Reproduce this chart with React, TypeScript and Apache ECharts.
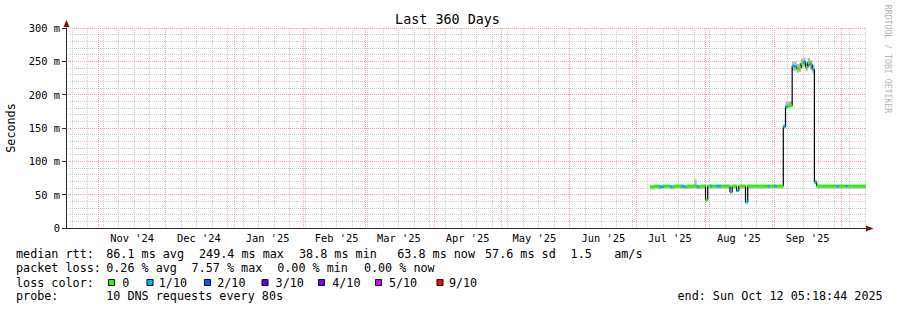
import React, { useEffect, useRef } from "react";
import * as echarts from "echarts";

const DAY = 86400000;
const X_MIN = Date.UTC(2024, 9, 17, 5, 18, 44);
const X_MAX = Date.UTC(2025, 9, 12, 5, 18, 44);
const FIRST_DAY = Date.UTC(2025, 6, 7);
const FIRST_SUNDAY = Date.UTC(2024, 9, 20);

// daily median rtt (ms), Jul 7 2025 .. Oct 12 2025
const medianMs = [
  62, 62, 63, 63, 62, 62, 63, 63, 63, 62, 62, 63, 63, 63, 63, 62, 62, 63, 63, 63, 63, 62, 62, 63, 63,
  42, 63, 63, 63, 63, 63, 63, 63, 63, 63, 63, 54, 63, 63, 56, 63, 63, 63, 39, 63, 63, 63, 63, 63, 63, 63, 63, 63, 63, 63, 63,
  63, 63, 63, 63,
  152,
  182, 183, 184,
  243, 242, 239, 240, 247, 249, 241, 248, 245, 238,
  69,
  63, 63, 63, 63, 63, 63, 63, 63, 63, 63, 63, 63, 63, 63, 63, 63, 63, 63, 63, 63, 63, 63, 63,
];

// smoke band (ms) per day
const smokeLowMs = [
  58, 58, 59, 59, 58, 58, 59, 59, 59, 58, 58, 59, 59, 59, 59, 58, 58, 59, 59, 59, 59, 58, 58, 59, 59,
  40, 59, 59, 59, 59, 59, 59, 59, 59, 59, 59, 52, 59, 59, 54, 59, 59, 59, 37, 59, 59, 59, 59, 59, 59, 59, 59, 59, 59, 59, 59,
  59, 59, 59, 59,
  150,
  180, 180, 181,
  236, 235, 233, 234, 240, 242, 235, 241, 238, 232,
  66,
  59, 59, 59, 59, 59, 59, 59, 59, 59, 59, 59, 59, 59, 59, 59, 59, 59, 59, 59, 59, 59, 59, 59,
];
const smokeHighMs = [
  63, 63, 64, 64, 63, 63, 64, 64, 64, 63, 63, 64, 64, 64, 64, 63, 63, 64, 64, 64, 73, 63, 63, 64, 64,
  43, 64, 64, 64, 64, 64, 64, 64, 64, 64, 64, 55, 64, 64, 57, 64, 64, 64, 40, 64, 64, 64, 64, 64, 64, 64, 64, 64, 64, 64, 64,
  64, 64, 64, 64,
  156,
  189, 190, 190,
  250, 249, 246, 247, 254, 256, 248, 255, 252, 245,
  72,
  64, 64, 64, 64, 64, 64, 64, 64, 64, 64, 64, 64, 64, 64, 64, 64, 64, 64, 64, 64, 64, 64, 64,
];

// packet loss per day, in tenths
const lossTenths = [
  0, 0, 0, 0, 1, 1, 0, 0, 0, 1,
  0, 0, 0, 0, 1, 1, 0, 0, 0, 0,
  0, 1, 0, 0, 0, 0, 0, 1, 0, 0,
  1, 1, 0, 0, 0, 0, 1, 0, 0, 1,
  0, 0, 0, 1, 0, 0, 0, 0, 0, 0,
  0, 0, 0, 1, 0, 0, 1, 0, 0, 0,
  1, 1, 0, 0, 1, 1, 0, 0, 0, 1,
  0, 0, 1, 1, 1, 0, 0, 0, 0, 0,
  0, 0, 0, 0, 1, 0, 0, 0, 1, 0,
  0, 0, 0, 0, 0, 0, 0, 0,
];

const monthStarts = [
  Date.UTC(2024, 10, 1), Date.UTC(2024, 11, 1), Date.UTC(2025, 0, 1), Date.UTC(2025, 1, 1),
  Date.UTC(2025, 2, 1), Date.UTC(2025, 3, 1), Date.UTC(2025, 4, 1), Date.UTC(2025, 5, 1),
  Date.UTC(2025, 6, 1), Date.UTC(2025, 7, 1), Date.UTC(2025, 8, 1), Date.UTC(2025, 9, 1),
];
const monthLabels = ["Nov '24", "Dec '24", "Jan '25", "Feb '25", "Mar '25", "Apr '25", "May '25", "Jun '25", "Jul '25", "Aug '25", "Sep '25"];
const yTickLabels = ["0", "50 m", "100 m", "150 m", "200 m", "250 m", "300 m"];

const lossLegendLabels = ["0", "1/10", "2/10", "3/10", "4/10", "5/10", "9/10"];
const lossLegendColors = ["#26ff00", "#00b8ff", "#0059ff", "#5e00ff", "#7e00ff", "#dd00ff", "#ff0000"];
const lossLegendBoxX = [108, 146.5, 204, 261.5, 318, 375, 436.5];
const lossLegendTextX = [122.2, 158.8, 217.2, 275.6, 332.2, 388.9, 448.9];

const statsRow1 = [
  { x: 16, t: "median rtt:" },
  { x: 106.2, t: "86.1 ms avg" },
  { x: 199, t: "249.4 ms max" },
  { x: 299, t: "38.8 ms min" },
  { x: 397.2, t: "63.8 ms now" },
  { x: 485, t: "57.6 ms sd" },
  { x: 570.6, t: "1.5" },
  { x: 614.2, t: "am/s" },
];
const statsRow2 = [
  { x: 16, t: "packet loss:" },
  { x: 106.2, t: "0.26 % avg" },
  { x: 191.6, t: "7.57 % max" },
  { x: 277.2, t: "0.00 % min" },
  { x: 363.9, t: "0.00 % now" },
];
const probeRow = [
  { x: 16, t: "probe:" },
  { x: 106.2, t: "10 DNS requests every 80s" },
  { x: 677.5, t: "end: Sun Oct 12 05:18:44 2025" },
];

const MONO = "'DejaVu Sans Mono', monospace";
const MINOR = "#cccccc";
const MAJOR = "#f2a2a2";
const AXIS = "#2a2a2a";

function buildOption() {
  const dayStart = (i: number) => FIRST_DAY + i * DAY;
  const dayEnd = (i: number) => Math.min(FIRST_DAY + (i + 1) * DAY, X_MAX);

  const smokeData = medianMs.map((_, i) => [dayStart(i), dayEnd(i), smokeLowMs[i], smokeHighMs[i]]);
  const lossData = medianMs.map((m, i) => [dayStart(i), dayEnd(i), m, lossTenths[i]]);
  const lineData = medianMs.map((m, i) => [dayStart(i), m]);
  lineData.push([X_MAX, medianMs[medianMs.length - 1]]);

  const vGrid: number[][] = [];
  for (let t = FIRST_SUNDAY; t <= X_MAX; t += 7 * DAY) vGrid.push([t, 0]);
  monthStarts.forEach((t) => vGrid.push([t, 1]));

  const labelValues = monthLabels.map((_, i) => monthStarts[i] + 15 * DAY);
  const labelMap = new Map<number, string>();
  labelValues.forEach((v, i) => labelMap.set(v, monthLabels[i]));

  const textStyle = (x: number, y: number, text: string, size = 11.75, extra: any = {}) => ({
    type: "text",
    silent: true,
    style: {
      x, y, text, fill: "#000",
      fontFamily: MONO, fontSize: size,
      align: "left", verticalAlign: "middle",
      textAlign: "left", textVerticalAlign: "middle",
      ...extra,
    },
  });

  const graphics: any[] = [];
  graphics.push(textStyle(447.5, 19, "Last 360 Days", 13.4, { align: "center", textAlign: "center" }));
  graphics.push({
    type: "text", silent: true, x: 11, y: 128, rotation: Math.PI / 2,
    style: { x: 0, y: 0, text: "Seconds", fill: "#000", fontFamily: MONO, fontSize: 11.75, align: "center", verticalAlign: "middle", textAlign: "center", textVerticalAlign: "middle" },
  });
  graphics.push({
    type: "text", silent: true, x: 887.5, y: 59, rotation: -Math.PI / 2,
    style: { x: 0, y: 0, text: "RRDTOOL / TOBI OETIKER", fill: "#b4b4b4", fontFamily: MONO, fontSize: 8.2, align: "center", verticalAlign: "middle", textAlign: "center", textVerticalAlign: "middle" },
  });
  // axis arrows
  graphics.push({ type: "polygon", silent: true, shape: { points: [[866, 225.5], [866, 231.5], [873.5, 228.5]] }, style: { fill: "#8a1010" } });
  graphics.push({ type: "polygon", silent: true, shape: { points: [[63.5, 27], [69.5, 27], [66.5, 20]] }, style: { fill: "#8a1010" } });

  const rowY = [254.3, 268.2, 282.5, 295.9];
  statsRow1.forEach((s) => graphics.push(textStyle(s.x, rowY[0], s.t)));
  statsRow2.forEach((s) => graphics.push(textStyle(s.x, rowY[1], s.t)));
  graphics.push(textStyle(16, rowY[2], "loss color:"));
  lossLegendLabels.forEach((lab, i) => {
    graphics.push({
      type: "rect", silent: true,
      shape: { x: lossLegendBoxX[i] + 0.5, y: 279.5, width: 6, height: 6 },
      style: { fill: lossLegendColors[i], stroke: "#000", lineWidth: 1 },
    });
    graphics.push(textStyle(lossLegendTextX[i], rowY[2], lab));
  });
  probeRow.forEach((s) => graphics.push(textStyle(s.x, rowY[3], s.t)));

  return {
    animation: false,
    backgroundColor: "#fff",
    grid: { left: 66, top: 28, width: 800, height: 200 },
    xAxis: {
      type: "value",
      min: X_MIN,
      max: X_MAX,
      axisLine: { show: true, onZero: false, lineStyle: { color: AXIS, width: 1 } },
      axisTick: { show: false },
      splitLine: { show: false },
      axisLabel: {
        customValues: labelValues,
        formatter: (v: number) => labelMap.get(v) ?? "",
        fontFamily: MONO,
        fontSize: 10.4,
        color: "#000",
        margin: 5,
        hideOverlap: false,
      },
    },
    yAxis: {
      type: "value",
      min: 0,
      max: 300,
      interval: 50,
      axisLine: { show: true, onZero: false, lineStyle: { color: AXIS, width: 1 } },
      axisTick: { show: true, length: 4, lineStyle: { color: AXIS } },
      minorTick: { show: false, splitNumber: 5 },
      splitLine: { show: true, lineStyle: { color: MAJOR, width: 1, type: [1, 1] } },
      minorSplitLine: { show: true, lineStyle: { color: MINOR, width: 1, type: [1, 1] } },
      axisLabel: {
        formatter: (v: number) => yTickLabels[Math.round(v / 50)],
        fontFamily: MONO,
        fontSize: 10.4,
        color: "#000",
        margin: 6,
      },
    },
    graphic: graphics,
    series: [
      {
        type: "custom",
        name: "vgrid",
        silent: true,
        z: 1,
        clip: true,
        data: vGrid,
        encode: { x: 0 },
        renderItem: (params: any, api: any) => {
          const t = api.value(0);
          const major = api.value(1) === 1;
          const top = api.coord([t, 300]);
          const bot = api.coord([t, 0]);
          const x = Math.floor(top[0]) + 0.5;
          return {
            type: "line",
            shape: { x1: x, y1: top[1], x2: x, y2: bot[1] },
            style: { stroke: major ? MAJOR : MINOR, lineWidth: 1, lineDash: [1, 1] },
          };
        },
      },
      {
        type: "custom",
        name: "smoke",
        silent: true,
        z: 2,
        clip: true,
        data: smokeData,
        encode: { x: [0, 1], y: [2, 3] },
        renderItem: (params: any, api: any) => {
          const a = api.coord([api.value(0), api.value(3)]);
          const b = api.coord([api.value(1), api.value(2)]);
          return {
            type: "rect",
            shape: { x: a[0], y: a[1], width: b[0] - a[0], height: b[1] - a[1] },
            style: { fill: "#b6b6b6" },
          };
        },
      },
      {
        type: "line",
        name: "median",
        step: "end",
        z: 3,
        silent: true,
        symbol: "none",
        data: lineData,
        lineStyle: { color: "#000", width: 1.2 },
      },
      {
        type: "custom",
        name: "loss",
        silent: true,
        z: 4,
        clip: true,
        data: lossData,
        encode: { x: [0, 1], y: 2 },
        renderItem: (params: any, api: any) => {
          const a = api.coord([api.value(0), api.value(2)]);
          const b = api.coord([api.value(1), api.value(2)]);
          const lt = api.value(3);
          const color = lossLegendColors[Math.min(lt, 5)];
          return {
            type: "rect",
            shape: { x: a[0], y: a[1] - 1.5, width: b[0] - a[0], height: 3 },
            style: { fill: color },
          };
        },
      },
    ],
  };
}

export default function App() {
  const ref = useRef<HTMLDivElement>(null);
  useEffect(() => {
    if (!ref.current) return;
    const chart = echarts.init(ref.current, null, { renderer: "svg" });
    chart.setOption(buildOption() as any);
    return () => chart.dispose();
  }, []);
  return (
    <div
      ref={ref}
      style={{ position: "fixed", left: 0, top: 0, width: 897, height: 310, background: "#fff" }}
    />
  );
}
